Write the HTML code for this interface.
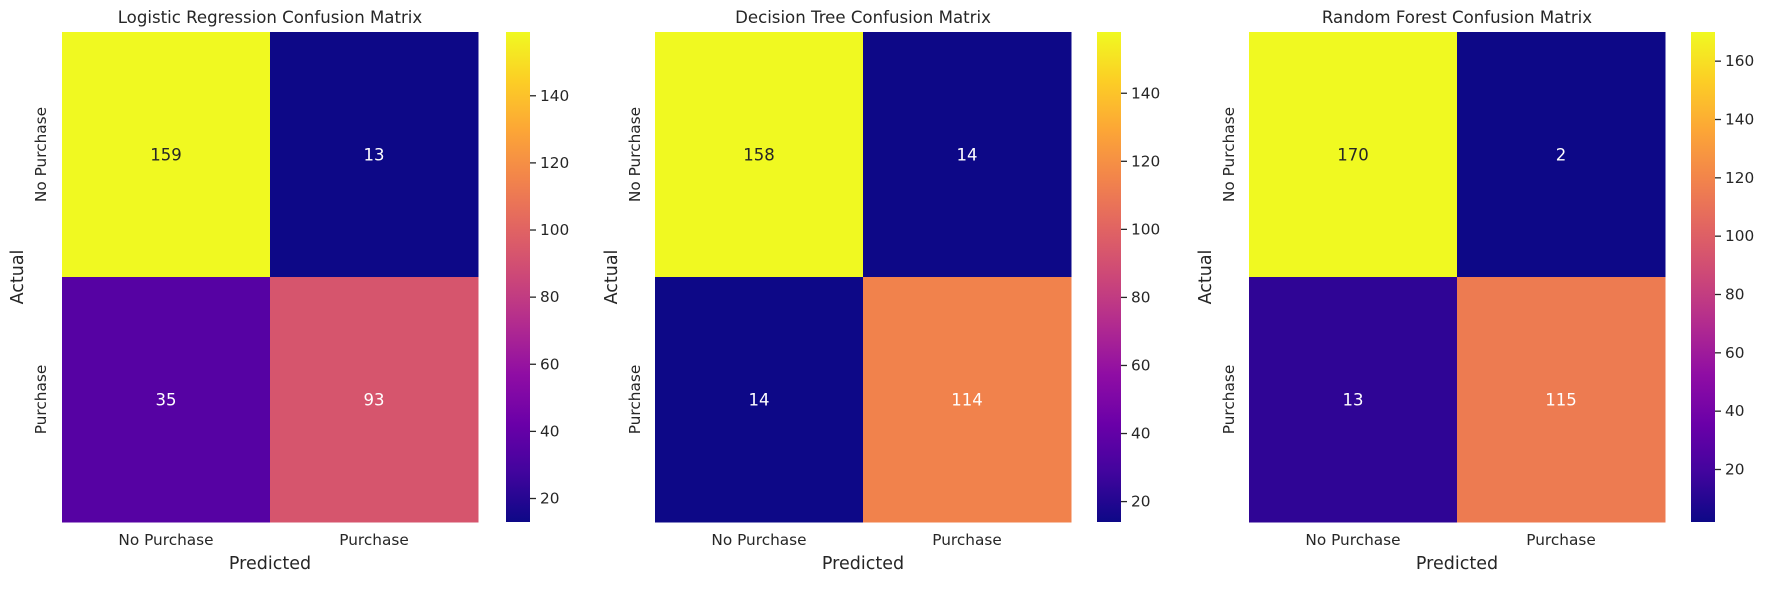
<!DOCTYPE html>
<html><head><meta charset="utf-8"><style>
body{margin:0;background:#fff}
svg text{font-family:"DejaVu Sans","Liberation Sans",sans-serif;fill:#262626}
</style></head><body>
<svg id="fig" width="1768" height="584" viewBox="0 0 1768 584" xmlns="http://www.w3.org/2000/svg"></svg>
<script>
const titles = ["Logistic Regression Confusion Matrix","Decision Tree Confusion Matrix","Random Forest Confusion Matrix"];
const classLabels = ["No Purchase","Purchase"];
const lrValues = [[159,13],[35,93]];
const dtValues = [[158,14],[14,114]];
const rfValues = [[170,2],[13,115]];
const lrTicks = [20,40,60,80,100,120,140];
const dtTicks = [20,40,60,80,100,120,140];
const rfTicks = [20,40,60,80,100,120,140,160];

const allValues=[lrValues,dtValues,rfValues];
const allTicks=[lrTicks,dtTicks,rfTicks];
const lefts=[62,655,1249], cbLefts=[506,1097,1691], ylabX=[17,611,1205];
const W=416, TOP=32, H=490, CBW=24;
const stops=["#0d0887","#41049d","#6a00a8","#8f0da4","#b12a90","#cc4778","#e16462","#f2844b","#fca636","#fcce25","#f0f921"];
function hex(h){return [1,3,5].map(i=>parseInt(h.substr(i,2),16));}
function plasma(t){t=Math.max(0,Math.min(1,t));const p=t*10,i=Math.min(9,Math.floor(p)),f=p-i;
 const a=hex(stops[i]),b=hex(stops[i+1]);return a.map((v,k)=>Math.round(v+(b[k]-v)*f));}
function lin(c){c/=255;return c<=0.03928?c/12.92:Math.pow((c+0.055)/1.055,2.4);}
const NS="http://www.w3.org/2000/svg", svg=document.getElementById('fig');
function el(tag,attrs,txt){const e=document.createElementNS(NS,tag);for(const k in attrs)e.setAttribute(k,attrs[k]);if(txt!=null)e.textContent=txt;svg.appendChild(e);return e;}
const defs=el('defs',{});
allValues.forEach((vals,p)=>{
 const flat=vals.flat(),mn=Math.min(...flat),mx=Math.max(...flat);
 const L=lefts[p],cw=W/2,ch=H/2;
 const t=el('text',{x:L+W/2,y:23,'text-anchor':'middle','font-size':16.6},titles[p]);
 
 
 vals.forEach((row,r)=>row.forEach((v,c)=>{
  const col=plasma((v-mn)/(mx-mn));
  const rc=el('rect',{x:L+c*cw,y:TOP+r*ch,width:cw+0.5,height:ch+0.5,fill:`rgb(${col})`});
  
  
  const lum=0.2126*lin(col[0])+0.7152*lin(col[1])+0.0722*lin(col[2]);
  const tx=el('text',{x:L+c*cw+cw/2,y:TOP+r*ch+ch/2+6,'text-anchor':'middle','font-size':16.5,style:'fill:'+(lum>0.408?'#262626':'#fff')},String(v));
  
  
 }));
 classLabels.forEach((lab,i)=>{
  const xl=el('text',{x:L+cw*i+cw/2,y:545,'text-anchor':'middle','font-size':15.3},lab);
  
  
  const yy=TOP+ch*i+ch/2, xx=ylabX[p]+29;
  const yl=el('text',{x:xx,y:yy,'text-anchor':'middle','font-size':15.3,transform:`rotate(-90 ${xx} ${yy})`},lab);
  
  
 });
 const xt=el('text',{x:L+W/2,y:569,'text-anchor':'middle','font-size':17.5},'Predicted');
 
 
 const ay=TOP+H/2, ax=ylabX[p]+6;
 const yt=el('text',{x:ax,y:ay,'text-anchor':'middle','font-size':17.5,transform:`rotate(-90 ${ax} ${ay})`},'Actual');
 
 
 const g=document.createElementNS(NS,'linearGradient');g.setAttribute('id','g'+p);
 g.setAttribute('x1','0');g.setAttribute('y1','1');g.setAttribute('x2','0');g.setAttribute('y2','0');
 for(let i=0;i<=20;i++){const s=document.createElementNS(NS,'stop');s.setAttribute('offset',i/20);s.setAttribute('stop-color',`rgb(${plasma(i/20)})`);g.appendChild(s);}
 defs.appendChild(g);
 const CB=cbLefts[p];
 const cb=el('rect',{x:CB,y:TOP,width:CBW,height:H,fill:`url(#g${p})`});
 
 
 allTicks[p].forEach(tv=>{
  const y=TOP+H-(tv-mn)/(mx-mn)*H;
  el('line',{x1:CB+CBW,x2:CB+CBW+6,y1:y,y2:y,stroke:'#262626','stroke-width':1.3});
  const tl=el('text',{x:CB+CBW+10,y:y+5,'font-size':15.3},String(tv));
  
  
 });
});
</script>
</body></html>
